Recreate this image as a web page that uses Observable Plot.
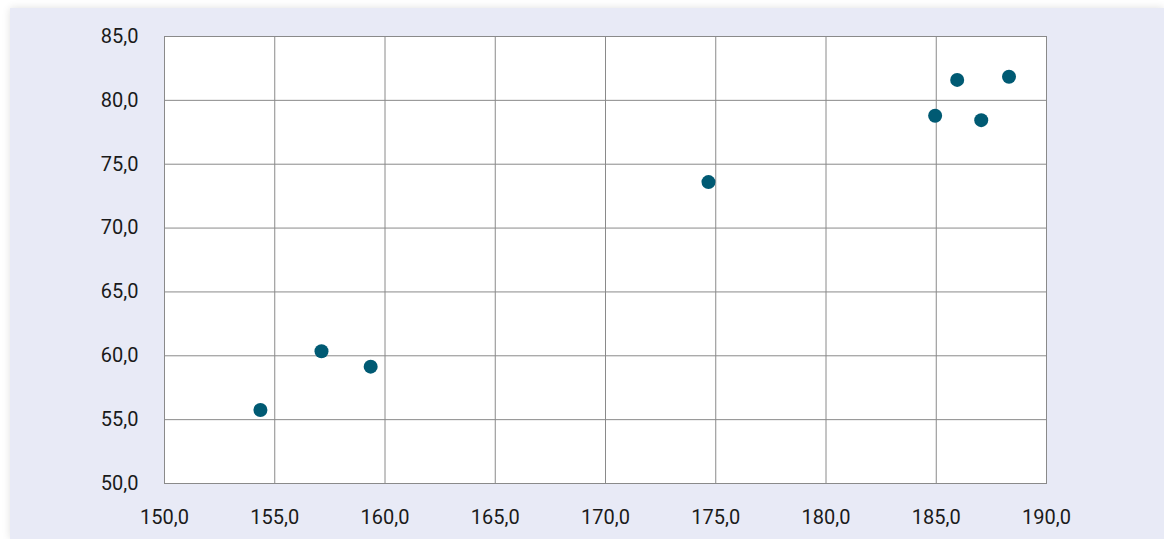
<!DOCTYPE html>
<html>
<head>
<meta charset="utf-8">
<script src="https://cdn.jsdelivr.net/npm/d3@7"></script>
<script src="https://cdn.jsdelivr.net/npm/@observablehq/plot@0.6"></script>
<style>
  html, body { margin: 0; padding: 0; background: #ffffff; width: 1164px; height: 539px; overflow: hidden; }
  #card { position: absolute; left: 10px; top: 8px; width: 1154px; height: 531px; background: #E8EAF6; box-shadow: 0 0 8px rgba(0,0,0,0.12); }
  #card svg { display: block; }
</style>
</head>
<body>
<div id="card"></div>
<script>
const heights = [154.35, 157.12, 159.35, 174.67, 184.95, 185.95, 187.04, 188.30];
const weights = [55.75, 60.35, 59.15, 73.6, 78.8, 81.6, 78.45, 81.85];
const xTicks = [150, 155, 160, 165, 170, 175, 180, 185, 190];
const yTicks = [50, 55, 60, 65, 70, 75, 80, 85];

const data = heights.map((h, i) => ({h, w: weights[i]}));
const fmt = d => d.toFixed(1).replace(".", ",");
const gridColor = "#8a8a8a";

const chart = Plot.plot({
  width: 1154,
  height: 531,
  marginLeft: 154,
  marginRight: 118,
  marginTop: 28,
  marginBottom: 56,
  style: {background: "transparent", fontFamily: "Roboto, sans-serif", fontSize: "20px", color: "#1a1a1a"},
  x: {domain: [150, 190], ticks: xTicks, tickFormat: fmt, label: null},
  y: {domain: [50, 85], ticks: yTicks, tickFormat: fmt, label: null},
  marks: [
    Plot.frame({fill: "white", stroke: null}),
    Plot.gridX(xTicks, {stroke: gridColor, strokeOpacity: 1, strokeWidth: 1}),
    Plot.gridY(yTicks, {stroke: gridColor, strokeOpacity: 1, strokeWidth: 1}),
    Plot.frame({stroke: gridColor, strokeWidth: 1}),
    Plot.axisX({ticks: xTicks, tickFormat: fmt, tickSize: 0, tickPadding: 26, fontSize: 20, fill: "#1a1a1a", label: null}),
    Plot.axisY({ticks: yTicks, tickFormat: fmt, tickSize: 0, tickPadding: 26, fontSize: 20, fill: "#1a1a1a", label: null}),
    Plot.dot(data, {x: "h", y: "w", r: 7, fill: "#005A73", stroke: null})
  ]
});
document.getElementById("card").appendChild(chart);
</script>
</body>
</html>
